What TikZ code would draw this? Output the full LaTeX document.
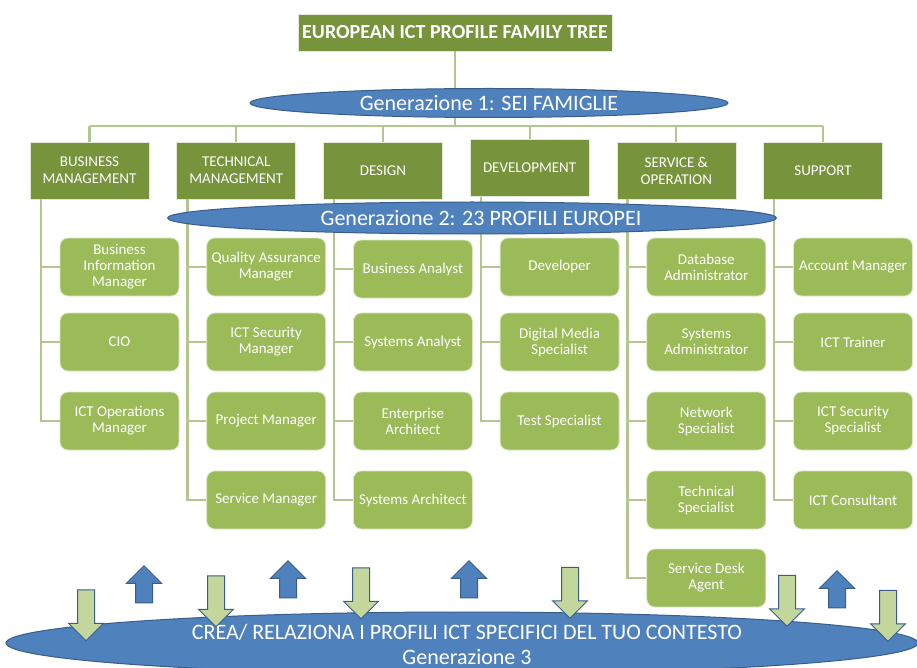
\documentclass[tikz,border=0pt]{standalone}
\usepackage{fontspec}
\setmainfont{Carlito}
\usetikzlibrary{shapes.geometric,shapes.arrows}

\definecolor{famgreen}{HTML}{77933C}
\definecolor{profgreen}{HTML}{9BBB59}
\definecolor{palegreen}{HTML}{C3D69B}
\definecolor{linegreen}{HTML}{B3C68F}
\definecolor{genblue}{HTML}{4F81BD}
\definecolor{genborder}{HTML}{385D8A}

\tikzset{
  treetitle/.style={draw=white!80!famgreen, line width=0.6pt, fill=famgreen, text=white,
    minimum width=314pt, minimum height=37pt, inner sep=0pt, font=\bfseries\fontsize{20}{22}\selectfont},
  family/.style={draw=white!80!famgreen, line width=0.6pt, fill=famgreen, text=white,
    minimum width=119pt, minimum height=57pt, align=center, inner sep=2pt, font=\fontsize{15}{17}\selectfont},
  profile/.style={draw=white!65!profgreen, line width=0.8pt, fill=profgreen, rounded corners=8pt, text=white,
    minimum width=119pt, minimum height=58pt, align=center, inner sep=2pt, font=\fontsize{15}{16}\selectfont},
  generation/.style={ellipse, draw=genborder, line width=1pt, fill=genblue, inner sep=0pt},
  gentext/.style={text=white, align=center, font=\fontsize{22}{25}\selectfont},
  conn/.style={draw=linegreen, line width=2.2pt},
  downarrow/.style={single arrow, shape border rotate=270, draw=genborder, line width=1pt, fill=palegreen,
    minimum height=51pt, inner sep=8pt, single arrow head extend=9pt},
  uparrow/.style={single arrow, shape border rotate=90, draw=genborder, line width=1pt, fill=genblue,
    minimum height=37pt, inner sep=8pt, single arrow head extend=9pt},
}

\begin{document}
\begin{tikzpicture}[x=1pt, y=-1pt]

    %--------------------%
    % Parameters
    %--------------------%
    \def\colsep{146.7}
    \def\famx{89.5}
    \def\profshift{30}
    \useasboundingbox (0,0) rectangle (917,668);

    %--------------------%
    % Title
    %--------------------%
    \node[treetitle] (title) at (455,32.5) {EUROPEAN ICT PROFILE FAMILY TREE};

    %--------------------%
    % Families
    %--------------------%
    \node[family] (bm) at (\famx+0*\colsep,170.5) {BUSINESS\\MANAGEMENT};
    \node[family] (tm) at (\famx+1*\colsep,170.5) {TECHNICAL\\MANAGEMENT};
    \node[family] (ds) at (\famx+2*\colsep,170.5) {DESIGN};
    \node[family] (dv) at (\famx+3*\colsep,168) {DEVELOPMENT};
    \node[family] (so) at (\famx+4*\colsep,170.5) {SERVICE \&\\OPERATION};
    \node[family] (su) at (\famx+5*\colsep,170.5) {SUPPORT};

    %--------------------%
    % Profiles
    %--------------------%
    % Business management
    \node[profile] (bim) at (\famx+\profshift+0*\colsep,267) {Business\\Information\\Manager};
    \node[profile] (cio) at (\famx+\profshift+0*\colsep,342) {CIO};
    \node[profile] (iom) at (\famx+\profshift+0*\colsep,421) {ICT Operations\\Manager};
    % Technical management
    \node[profile] (qam) at (\famx+\profshift+1*\colsep,267) {Quality Assurance\\Manager};
    \node[profile] (ism) at (\famx+\profshift+1*\colsep,342) {ICT Security\\Manager};
    \node[profile] (prm) at (\famx+\profshift+1*\colsep,421) {Project Manager};
    \node[profile] (svm) at (\famx+\profshift+1*\colsep,500) {Service Manager};
    % Design
    \node[profile] (ban) at (\famx+\profshift+2*\colsep,269) {Business Analyst};
    \node[profile] (san) at (\famx+\profshift+2*\colsep,342) {Systems Analyst};
    \node[profile] (ear) at (\famx+\profshift+2*\colsep,421) {Enterprise\\Architect};
    \node[profile] (sar) at (\famx+\profshift+2*\colsep,500) {Systems Architect};
    % Development
    \node[profile] (dev) at (\famx+\profshift+3*\colsep,267) {Developer};
    \node[profile] (dms) at (\famx+\profshift+3*\colsep,342) {Digital Media\\Specialist};
    \node[profile] (tsp) at (\famx+\profshift+3*\colsep,421) {Test Specialist};
    % Service & operation
    \node[profile] (dba) at (\famx+\profshift+4*\colsep,267) {Database\\Administrator};
    \node[profile] (sad) at (\famx+\profshift+4*\colsep,342) {Systems\\Administrator};
    \node[profile] (nsp) at (\famx+\profshift+4*\colsep,421) {Network\\Specialist};
    \node[profile] (tcs) at (\famx+\profshift+4*\colsep,500) {Technical\\Specialist};
    \node[profile] (sda) at (\famx+\profshift+4*\colsep,578) {Service Desk\\Agent};
    % Support
    \node[profile] (acm) at (\famx+\profshift+5*\colsep,267) {Account Manager};
    \node[profile] (ict) at (\famx+\profshift+5*\colsep,342) {ICT Trainer};
    \node[profile] (iss) at (\famx+\profshift+5*\colsep,421) {ICT Security\\Specialist};
    \node[profile] (icc) at (\famx+\profshift+5*\colsep,500) {ICT Consultant};

    %--------------------%
    % Connections
    %--------------------%
    \coordinate (bar) at (455,126);
    \draw[conn] (title.south) -- (bar);
    \draw[conn] (bm.north |- bar) -- (su.north |- bar);
    \foreach \f in {bm,tm,ds,dv,so,su}
        \draw[conn] (\f.north |- bar) -- (\f.north);
    \foreach \f/\p in {bm/bim,bm/cio,bm/iom,
                       tm/qam,tm/ism,tm/prm,tm/svm,
                       ds/ban,ds/san,ds/ear,ds/sar,
                       dv/dev,dv/dms,dv/tsp,
                       so/dba,so/sad,so/nsp,so/tcs,so/sda,
                       su/acm,su/ict,su/iss,su/icc}
        \draw[conn] ([xshift=11pt]\f.south west) |- (\p.west);

    %--------------------%
    % Generations
    %--------------------%
    \node[generation, minimum width=478pt, minimum height=29pt] (gen1) at (489,103) {};
    \node[gentext] (gen1txt) at (gen1) {Generazione 1: SEI FAMIGLIE};
    \node[generation, minimum width=609pt, minimum height=32pt] (gen2) at (472,218) {};
    \node[gentext] (gen2txt) at ([xshift=9pt]gen2.center) {Generazione 2: 23 PROFILI EUROPEI};
    \node[generation, minimum width=912pt, minimum height=62pt] (gen3) at (462,643) {};
    \node[gentext] (gen3txt) at (467,644) {CREA/ RELAZIONA I PROFILI ICT SPECIFICI DEL TUO CONTESTO\\Generazione 3};

    %--------------------%
    % Arrows
    %--------------------%
    \node[downarrow] (down1) at (86,611) {};
    \node[downarrow] (down2) at (216,597) {};
    \node[downarrow] (down3) at (361,589) {};
    \node[downarrow] (down4) at (570,588.5) {};
    \node[downarrow] (down5) at (787,596.5) {};
    \node[downarrow] (down6) at (888,611.5) {};
    \node[uparrow] (up1) at (144,588.5) {};
    \node[uparrow] (up2) at (288,583.5) {};
    \node[uparrow] (up3) at (469,583.5) {};
    \node[uparrow] (up4) at (837,593.5) {};
\end{tikzpicture}
\end{document}
